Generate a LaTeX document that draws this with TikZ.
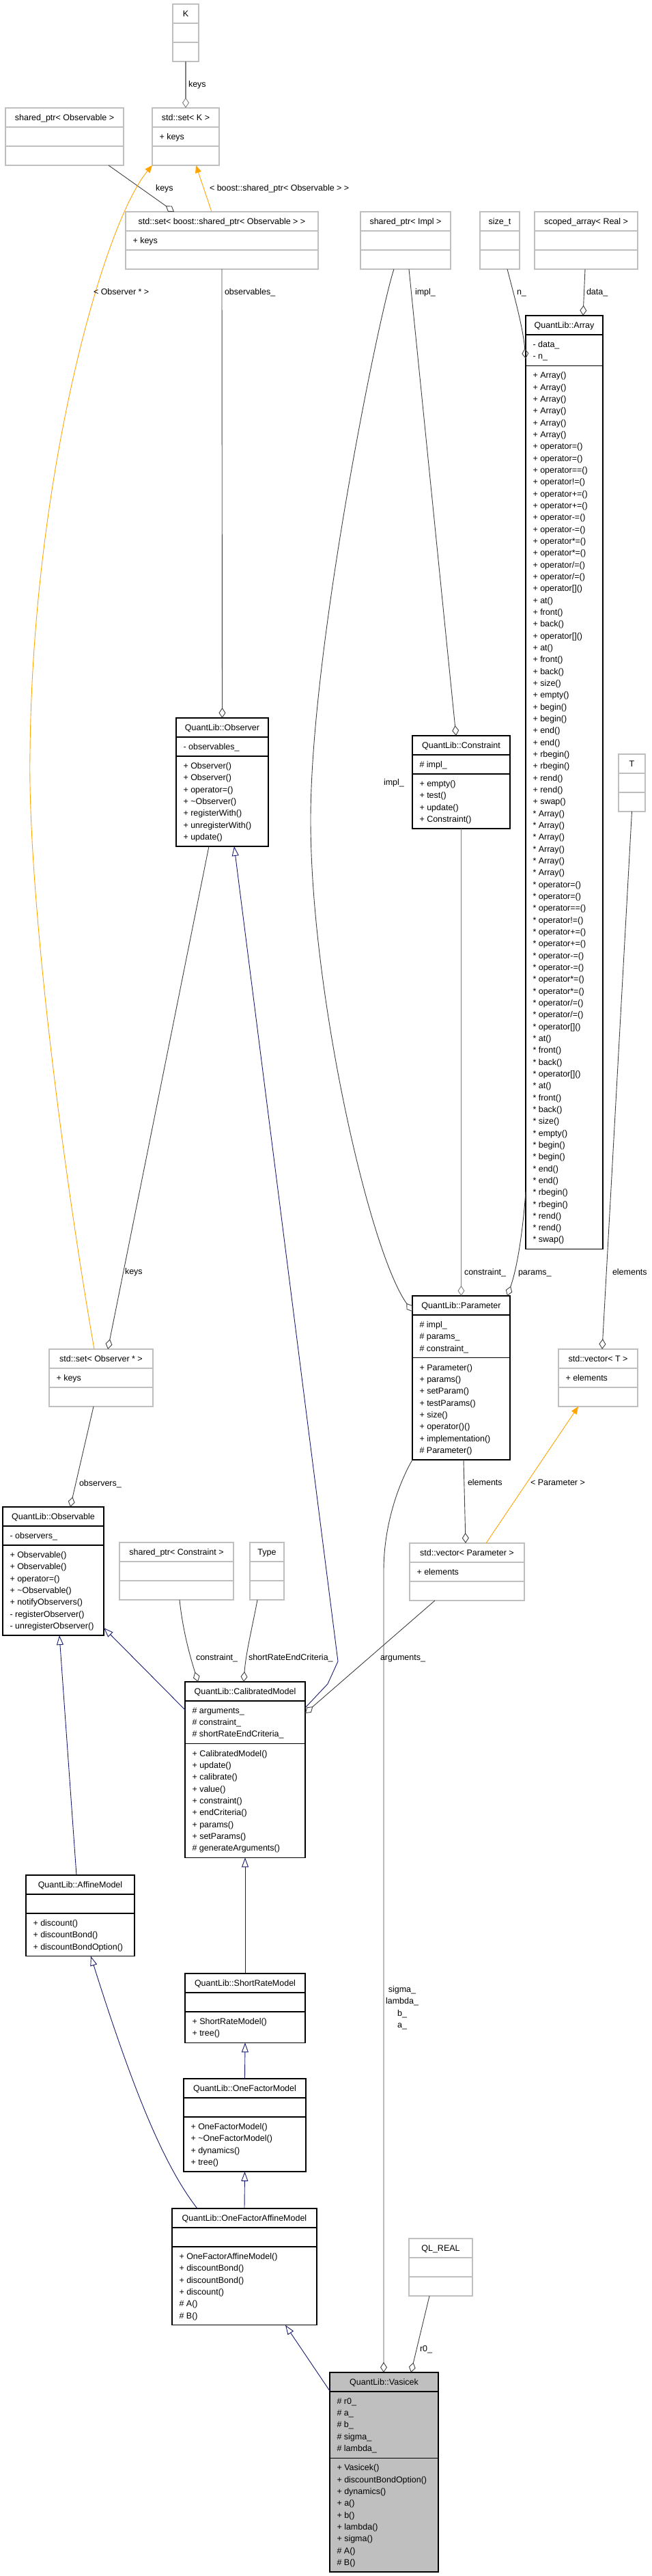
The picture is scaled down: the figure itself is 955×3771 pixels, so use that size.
\documentclass[tikz,border=0pt]{standalone}
\usepackage{fontspec}
\setmainfont{Liberation Sans}
\usetikzlibrary{arrows.meta}

\definecolor{tmplgrey}{HTML}{BFBFBF}
\definecolor{mainfill}{HTML}{BFBFBF}
\definecolor{edgegrey}{HTML}{404040}
\definecolor{inhblue}{HTML}{191970}
\definecolor{tplorange}{HTML}{FFA500}

\newcommand{\arrops}[1]{#1 Array()\\#1 Array()\\#1 Array()\\#1 Array()\\#1 Array()\\#1 Array()\\#1 operator=()\\#1 operator=()\\#1 operator==()\\#1 operator!=()\\#1 operator+=()\\#1 operator+=()\\#1 operator-=()\\#1 operator-=()\\#1 operator*=()\\#1 operator*=()\\#1 operator/=()\\#1 operator/=()\\#1 operator[]()\\#1 at()\\#1 front()\\#1 back()\\#1 operator[]()\\#1 at()\\#1 front()\\#1 back()\\#1 size()\\#1 empty()\\#1 begin()\\#1 begin()\\#1 end()\\#1 end()\\#1 rbegin()\\#1 rbegin()\\#1 rend()\\#1 rend()\\#1 swap()}

\begin{document}
\begin{tikzpicture}[x=1pt, y=-1pt,
  every node/.style={font=\fontsize{12.5}{17.33}\selectfont, inner sep=0pt, outer sep=0pt},
  cls/.style={draw=black, line width=1.2pt},
  tmpl/.style={draw=tmplgrey, line width=1.2pt},
  main/.style={draw=black, fill=mainfill, line width=1.2pt},
  ttl/.style={anchor=base},
  mem/.style={anchor=north west, align=left},
  lbl/.style={anchor=base west},
  agg/.style={draw=edgegrey, line width=0.9pt, -{Diamond[open, length=15pt, width=10pt]}},
  aggl/.style={draw=gray, line width=1.5pt, -{Diamond[open, length=15pt, width=10pt, line width=0.9pt]}},
  inh/.style={draw=inhblue, line width=0.9pt, -{Triangle[open, length=14pt, width=10pt]}},
  tpl/.style={draw=tplorange, line width=0.9pt, -{Triangle[length=11pt, width=9pt]}}]

% Background
\useasboundingbox[fill=white] (0,0) rectangle (955,3771);

% Classes
\foreach \n/\s/\xa/\xb/\ya/\sa/\sb/\yb/\lab in {
  k/tmpl/253/291/6/34/62/90/K,
  setk/tmpl/223/321/158/186/214/242/std::set< K >,
  spobs/tmpl/8/181/158/186/214/242/shared\_ptr< Observable >,
  setsp/tmpl/184/466/310/338/366/394/std::set< boost::shared\_ptr< Observable > >,
  spimpl/tmpl/528/660/310/338/366/394/shared\_ptr< Impl >,
  sizet/tmpl/703/761/310/338/366/394/size\_t,
  scarr/tmpl/783/934/310/338/366/394/scoped\_array< Real >,
  arr/cls/770/883/462/490/535.33/1828.67/QuantLib::Array,
  obs/cls/258/393/1051/1079/1107/1239/QuantLib::Observer,
  cons/cls/604/747/1077/1105/1133/1213/QuantLib::Constraint,
  tt/tmpl/906/945/1104/1132/1160/1188/T,
  param/cls/604/747/1897/1925/1987.67/2137/QuantLib::Parameter,
  vect/tmpl/818/934/1975/2003/2031/2059/std::vector< T >,
  setop/tmpl/72/224/1975/2003/2031/2059/std::set< Observer * >,
  obsl/cls/4/152/2206/2234/2262/2394/QuantLib::Observable,
  spcons/tmpl/175/342/2258/2286/2314/2342/shared\_ptr< Constraint >,
  type/tmpl/366/416/2258/2286/2314/2342/Type,
  vecp/tmpl/600/768/2259/2287/2315/2343/std::vector< Parameter >,
  cal/cls/271/447/2462/2490/2552.67/2719.33/QuantLib::CalibratedModel,
  aff/cls/38/197/2745/2773/2801/2863.67/QuantLib::AffineModel,
  sr/cls/271/447/2889/2917/2945/2990.33/QuantLib::ShortRateModel,
  ofm/cls/269/448/3043/3071/3099/3179/QuantLib::OneFactorModel,
  ofa/cls/252/464/3233/3261/3289/3403.67/QuantLib::OneFactorAffineModel,
  qlr/tmpl/599/692/3277/3305/3333/3361/QL\_REAL,
  vas/main/483/642/3473/3501/3598.33/3765/QuantLib::Vasicek}{
  \node[\s, minimum width={(\xb-\xa)*1pt}, minimum height={(\yb-\ya)*1pt}, anchor=north west] (\n) at (\xa,\ya) {};
  \draw[\s] (\xa,\sa) -- (\xb,\sa) (\xa,\sb) -- (\xb,\sb);
  \node[ttl] (\n-t) at ({(\xa+\xb)/2},\ya+18.5) {\lab};
}

% Members
\node[mem] (setk-a) at (233.5,195.5) {+ keys};
\node[mem] (setsp-a) at (194.5,347.5) {+ keys};
\node[mem] (arr-a) at (780.5,499.5) {- data\_\\- n\_};
\node[mem] (arr-m) at (780.5,544.83) {\arrops{+}\\\arrops{*}};
\node[mem] (obs-a) at (268.5,1088.5) {- observables\_};
\node[mem] (obs-m) at (268.5,1116.5) {+ Observer()\\+ Observer()\\+ operator=()\\+ \textasciitilde Observer()\\+ registerWith()\\+ unregisterWith()\\+ update()};
\node[mem] (cons-a) at (614.5,1114.5) {\# impl\_};
\node[mem] (cons-m) at (614.5,1142.5) {+ empty()\\+ test()\\+ update()\\+ Constraint()};
\node[mem] (param-a) at (614.5,1934.5) {\# impl\_\\\# params\_\\\# constraint\_};
\node[mem] (param-m) at (614.5,1997.17) {+ Parameter()\\+ params()\\+ setParam()\\+ testParams()\\+ size()\\+ operator()()\\+ implementation()\\\# Parameter()};
\node[mem] (vect-a) at (828.5,2012.5) {+ elements};
\node[mem] (setop-a) at (82.5,2012.5) {+ keys};
\node[mem] (obsl-a) at (14.5,2243.5) {- observers\_};
\node[mem] (obsl-m) at (14.5,2271.5) {+ Observable()\\+ Observable()\\+ operator=()\\+ \textasciitilde Observable()\\+ notifyObservers()\\- registerObserver()\\- unregisterObserver()};
\node[mem] (vecp-a) at (610.5,2296.5) {+ elements};
\node[mem] (cal-a) at (281.5,2499.5) {\# arguments\_\\\# constraint\_\\\# shortRateEndCriteria\_};
\node[mem] (cal-m) at (281.5,2562.17) {+ CalibratedModel()\\+ update()\\+ calibrate()\\+ value()\\+ constraint()\\+ endCriteria()\\+ params()\\+ setParams()\\\# generateArguments()};
\node[mem] (aff-m) at (48.5,2810.5) {+ discount()\\+ discountBond()\\+ discountBondOption()};
\node[mem] (sr-m) at (281.5,2954.5) {+ ShortRateModel()\\+ tree()};
\node[mem] (ofm-m) at (279.5,3108.5) {+ OneFactorModel()\\+ \textasciitilde OneFactorModel()\\+ dynamics()\\+ tree()};
\node[mem] (ofa-m) at (262.5,3298.5) {+ OneFactorAffineModel()\\+ discountBond()\\+ discountBond()\\+ discount()\\\# A()\\\# B()};
\node[mem] (vas-a) at (493.5,3510.5) {\# r0\_\\\# a\_\\\# b\_\\\# sigma\_\\\# lambda\_};
\node[mem] (vas-m) at (493.5,3607.83) {+ Vasicek()\\+ discountBondOption()\\+ dynamics()\\+ a()\\+ b()\\+ lambda()\\+ sigma()\\\# A()\\\# B()};

% Aggregations
\draw[aggl] (k.south) -- (setk.north);
\draw[agg] ([xshift=151pt]spobs.south west) -- ([xshift=71pt]setsp.north west);
\draw[agg] ([xshift=141pt]setsp.south west) -- (obs.north);
\draw[agg] ([xshift=71pt]spimpl.south west) -- ([xshift=64pt]cons.north west);
\draw[agg] ([xshift=49pt]spimpl.south west) .. controls (555,460) and (455,950) .. (455,1200)
  .. controls (455,1450) and (540,1830) .. ([yshift=-23pt]param.north west);
\draw[aggl] (cons.south) -- (param.north);
\draw[agg] ([yshift=84pt]arr.south west) .. controls (766,1800) and (758,1855) .. ([xshift=139pt]param.north west);
\draw[agg] ([xshift=40pt]sizet.south west) .. controls (755,440) and (766,480) .. ([yshift=-63pt]arr.north west);
\draw[agg] ([xshift=74pt]scarr.south west) -- ([xshift=84pt]arr.north west);
\draw[agg] (tt.south) -- ([xshift=64pt]vect.north west);
\draw[agg] ([xshift=48pt]obs.south west) -- ([xshift=86pt]setop.north west);
\draw[agg] ([xshift=65pt]setop.south west) -- ([xshift=99pt]obsl.north west);
\draw[agg] ([xshift=75pt]param.south west) -- ([xshift=82pt]vecp.north west);
\draw[agg] ([xshift=37pt]vecp.south west) -- ([yshift=-46pt]cal.north east);
\draw[agg] ([xshift=88pt]spcons.south west) .. controls (268,2390) and (280,2430) .. ([xshift=19pt]cal.north west);
\draw[agg] ([xshift=11pt]type.south west) .. controls (370,2380) and (360,2420) .. ([xshift=86pt]cal.north west);
\draw[agg] (param.south west) .. controls (585,2170) and (562,2230) .. (562,2300) -- ([xshift=79pt]vas.north west);
\draw[agg] ([xshift=30pt]qlr.south west) -- ([xshift=119pt]vas.north west);

% Inheritance
\draw[inh] ([yshift=-38pt]cal.north east) -- (480,2465) -- (495,2432) -- ([xshift=85pt]obs.south west);
\draw[inh] ([yshift=-41pt]cal.north west) -- ([yshift=11pt]obsl.south east);
\draw[inh] ([xshift=74pt]aff.north west) -- ([xshift=83pt]obsl.south west);
\draw[inh] (sr.north) -- (cal.south);
\draw[inh] (ofm.north) -- (sr.south);
\draw[inh] (ofa.north) -- (ofm.south);
\draw[inh] ([xshift=37pt]ofa.north west) .. controls (240,3170) and (195,3060) .. ([xshift=95pt]aff.south west);
\draw[inh] ([yshift=-27pt]vas.north west) -- ([xshift=166pt]ofa.south west);

% Template instances
\draw[tpl] ([xshift=126pt]setsp.north west) -- ([xshift=64pt]setk.south west);
\draw[tpl] ([xshift=66pt]setop.north west) .. controls (90,1700) and (40,1300) .. (44,1100)
  .. controls (48,700) and (150,330) .. (setk.south west);
\draw[tpl] ([xshift=112pt]vecp.north west) -- ([xshift=29pt]vect.south west);

% Edge labels
\node[lbl] (l-keys1) at (276,127.5) {keys};
\node[lbl] (l-keys2) at (228,279.5) {keys};
\node[lbl] (l-bsp) at (307,279.5) {< boost::shared\_ptr< Observable > >};
\node[lbl] (l-obsstar) at (137,431.5) {< Observer * >};
\node[lbl] (l-obsv) at (329,431.5) {observables\_};
\node[lbl] (l-impl1) at (608,431.5) {impl\_};
\node[lbl] (l-n) at (757,431.5) {n\_};
\node[lbl] (l-data) at (859,431.5) {data\_};
\node[lbl] (l-impl2) at (562,1149.5) {impl\_};
\node[lbl] (l-keys3) at (183,1865.5) {keys};
\node[lbl] (l-cons1) at (680,1866.5) {constraint\_};
\node[lbl] (l-params) at (759,1866.5) {params\_};
\node[lbl] (l-elemt) at (897,1866.5) {elements};
\node[lbl] (l-obsr) at (116,2175.5) {observers\_};
\node[lbl] (l-elemp) at (685,2174.5) {elements};
\node[lbl] (l-par) at (777,2174.5) {< Parameter >};
\node[lbl] (l-cons2) at (287,2430.5) {constraint\_};
\node[lbl] (l-srec) at (364,2430.5) {shortRateEndCriteria\_};
\node[lbl] (l-args) at (557,2430.5) {arguments\_};
\node[anchor=north, align=center] (l-sig) at (589,2907.5) {sigma\_\\lambda\_\\b\_\\a\_};
\node[lbl] (l-r0) at (615,3442.5) {r0\_};
\end{tikzpicture}
\end{document}
